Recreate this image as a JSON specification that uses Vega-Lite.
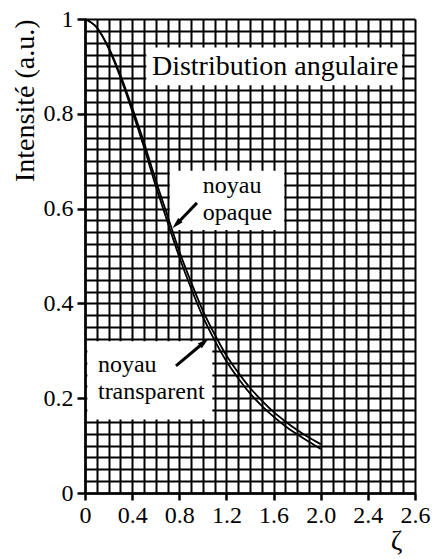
{
  "$schema": "https://vega.github.io/schema/vega-lite/v6.json",
  "width": 330,
  "height": 474,
  "autosize": "none",
  "padding": {"left": 85, "top": 19, "right": 17, "bottom": 66},
  "background": "white",
  "config": {
    "view": {"stroke": null},
    "font": "Liberation Serif",
    "axis": {
      "labelFont": "Liberation Serif",
      "titleFont": "Liberation Serif",
      "labelColor": "black",
      "titleColor": "black",
      "labelFontSize": 24,
      "titleFontWeight": "normal",
      "domainColor": "black",
      "domainWidth": 2.5,
      "tickColor": "black",
      "tickWidth": 2.5,
      "gridColor": "black",
      "gridWidth": 2,
      "gridOpacity": 1,
      "labelOverlap": false,
      "labelFlush": false
    }
  },
  "datasets": {
    "curves": [
      {"zeta": 0.0, "intensite": 1.0, "noyau": "opaque"},
      {"zeta": 0.1, "intensite": 0.982, "noyau": "opaque"},
      {"zeta": 0.2, "intensite": 0.94, "noyau": "opaque"},
      {"zeta": 0.3, "intensite": 0.882, "noyau": "opaque"},
      {"zeta": 0.4, "intensite": 0.813, "noyau": "opaque"},
      {"zeta": 0.5, "intensite": 0.74, "noyau": "opaque"},
      {"zeta": 0.6, "intensite": 0.66, "noyau": "opaque"},
      {"zeta": 0.7, "intensite": 0.585, "noyau": "opaque"},
      {"zeta": 0.8, "intensite": 0.51, "noyau": "opaque"},
      {"zeta": 0.9, "intensite": 0.445, "noyau": "opaque"},
      {"zeta": 1.0, "intensite": 0.385, "noyau": "opaque"},
      {"zeta": 1.1, "intensite": 0.335, "noyau": "opaque"},
      {"zeta": 1.2, "intensite": 0.29, "noyau": "opaque"},
      {"zeta": 1.3, "intensite": 0.254, "noyau": "opaque"},
      {"zeta": 1.4, "intensite": 0.222, "noyau": "opaque"},
      {"zeta": 1.5, "intensite": 0.195, "noyau": "opaque"},
      {"zeta": 1.6, "intensite": 0.171, "noyau": "opaque"},
      {"zeta": 1.7, "intensite": 0.151, "noyau": "opaque"},
      {"zeta": 1.8, "intensite": 0.133, "noyau": "opaque"},
      {"zeta": 1.9, "intensite": 0.117, "noyau": "opaque"},
      {"zeta": 2.0, "intensite": 0.103, "noyau": "opaque"},
      {"zeta": 0.0, "intensite": 1.0, "noyau": "transparent"},
      {"zeta": 0.1, "intensite": 0.982, "noyau": "transparent"},
      {"zeta": 0.2, "intensite": 0.938, "noyau": "transparent"},
      {"zeta": 0.3, "intensite": 0.877, "noyau": "transparent"},
      {"zeta": 0.4, "intensite": 0.806, "noyau": "transparent"},
      {"zeta": 0.5, "intensite": 0.73, "noyau": "transparent"},
      {"zeta": 0.6, "intensite": 0.648, "noyau": "transparent"},
      {"zeta": 0.7, "intensite": 0.572, "noyau": "transparent"},
      {"zeta": 0.8, "intensite": 0.498, "noyau": "transparent"},
      {"zeta": 0.9, "intensite": 0.432, "noyau": "transparent"},
      {"zeta": 1.0, "intensite": 0.372, "noyau": "transparent"},
      {"zeta": 1.1, "intensite": 0.322, "noyau": "transparent"},
      {"zeta": 1.2, "intensite": 0.278, "noyau": "transparent"},
      {"zeta": 1.3, "intensite": 0.242, "noyau": "transparent"},
      {"zeta": 1.4, "intensite": 0.21, "noyau": "transparent"},
      {"zeta": 1.5, "intensite": 0.184, "noyau": "transparent"},
      {"zeta": 1.6, "intensite": 0.161, "noyau": "transparent"},
      {"zeta": 1.7, "intensite": 0.141, "noyau": "transparent"},
      {"zeta": 1.8, "intensite": 0.124, "noyau": "transparent"},
      {"zeta": 1.9, "intensite": 0.108, "noyau": "transparent"},
      {"zeta": 2.0, "intensite": 0.093, "noyau": "transparent"}
    ]
  },
  "layer": [
    {
      "data": {"values": [{}]},
      "mark": {"type": "rect", "fill": "white"},
      "encoding": {
        "x": {"datum": 0.52, "type": "quantitative"},
        "x2": {"datum": 2.69},
        "y": {"datum": 0.94, "type": "quantitative"},
        "y2": {"datum": 0.86}
      }
    },
    {
      "data": {"values": [{}]},
      "mark": {"type": "rect", "fill": "white"},
      "encoding": {
        "x": {"datum": 0.72, "type": "quantitative"},
        "x2": {"datum": 1.69},
        "y": {"datum": 0.68, "type": "quantitative"},
        "y2": {"datum": 0.555}
      }
    },
    {
      "data": {"values": [{}]},
      "mark": {"type": "rect", "fill": "white"},
      "encoding": {
        "x": {"datum": 0.02, "type": "quantitative"},
        "x2": {"datum": 1.08},
        "y": {"datum": 0.32, "type": "quantitative"},
        "y2": {"datum": 0.155}
      }
    },
    {
      "data": {"name": "curves"},
      "mark": {"type": "line", "color": "black", "strokeWidth": 1.8, "interpolate": "monotone"},
      "encoding": {
        "detail": {"field": "noyau"},
        "x": {
          "field": "zeta",
          "type": "quantitative",
          "scale": {"domain": [0, 2.8], "nice": false, "zero": false},
          "axis": {
            "title": "ζ",
            "titleFontSize": 28,
            "titleX": 311,
            "titleAlign": "center",
            "titlePadding": 0,
            "tickCount": 100,
            "values": [0, 0.1, 0.2, 0.3, 0.4, 0.5, 0.6, 0.7, 0.8, 0.9, 1.0, 1.1, 1.2, 1.3, 1.4, 1.5, 1.6, 1.7, 1.8, 1.9, 2.0, 2.1, 2.2, 2.3, 2.4, 2.5, 2.6, 2.7, 2.8],
            "grid": true,
            "tickSize": 7,
            "labelPadding": 3,
            "tickOpacity": {"condition": {"test": "abs(datum.value/0.4 - round(datum.value/0.4)) > 0.01", "value": 0}, "value": 1},
            "labelExpr": "abs(datum.value/0.4 - round(datum.value/0.4)) > 0.01 ? '' : (datum.value == 0 ? '0' : (datum.value > 2.7 ? '2.6' : format(datum.value, '.1f')))"
          }
        },
        "y": {
          "field": "intensite",
          "type": "quantitative",
          "scale": {"domain": [0, 1], "nice": false},
          "axis": {
            "title": "Intensité (a.u.)",
            "titleFontSize": 28,
            "titleAnchor": "end",
            "titlePadding": 4,
            "tickCount": 100,
            "values": [0, 0.025, 0.05, 0.075, 0.1, 0.125, 0.15, 0.175, 0.2, 0.225, 0.25, 0.275, 0.3, 0.325, 0.35, 0.375, 0.4, 0.425, 0.45, 0.475, 0.5, 0.525, 0.55, 0.575, 0.6, 0.625, 0.65, 0.675, 0.7, 0.725, 0.75, 0.775, 0.8, 0.825, 0.85, 0.875, 0.9, 0.925, 0.95, 0.975, 1.0],
            "grid": true,
            "tickSize": 8,
            "labelPadding": 4,
            "tickOpacity": {"condition": {"test": "abs(datum.value/0.2 - round(datum.value/0.2)) > 0.01", "value": 0}, "value": 1},
            "labelExpr": "abs(datum.value/0.2 - round(datum.value/0.2)) > 0.01 ? '' : (datum.value == 0 ? '0' : (datum.value == 1 ? '1' : format(datum.value, '.1f')))"
          }
        }
      }
    },
    {
      "data": {"values": [{}]},
      "mark": {"type": "text", "font": "Liberation Serif", "fontSize": 28, "align": "left", "baseline": "alphabetic", "color": "black", "text": "Distribution angulaire"},
      "encoding": {
        "x": {"datum": 0.568, "type": "quantitative"},
        "y": {"datum": 0.882, "type": "quantitative"}
      }
    },
    {
      "data": {"values": [{}]},
      "mark": {"type": "text", "font": "Liberation Serif", "fontSize": 24, "align": "left", "baseline": "alphabetic", "lineHeight": 27, "color": "black", "text": ["noyau", "opaque"]},
      "encoding": {
        "x": {"datum": 1.0, "type": "quantitative"},
        "y": {"datum": 0.633, "type": "quantitative"}
      }
    },
    {
      "data": {"values": [{}]},
      "mark": {"type": "text", "font": "Liberation Serif", "fontSize": 24, "align": "left", "baseline": "alphabetic", "lineHeight": 27, "color": "black", "text": ["noyau", "transparent"]},
      "encoding": {
        "x": {"datum": 0.11, "type": "quantitative"},
        "y": {"datum": 0.255, "type": "quantitative"}
      }
    },
    {
      "data": {"values": [{}]},
      "mark": {"type": "rule", "color": "black", "strokeWidth": 3},
      "encoding": {
        "x": {"datum": 0.95, "type": "quantitative"},
        "y": {"datum": 0.612, "type": "quantitative"},
        "x2": {"datum": 0.776},
        "y2": {"datum": 0.567}
      }
    },
    {
      "data": {"values": [{}]},
      "mark": {"type": "point", "shape": "M0,-1L0.55,1L-0.55,1Z", "filled": true, "color": "black", "opacity": 1, "size": 130, "angle": 224},
      "encoding": {
        "x": {"datum": 0.776, "type": "quantitative"},
        "y": {"datum": 0.567, "type": "quantitative"}
      }
    },
    {
      "data": {"values": [{}]},
      "mark": {"type": "rule", "color": "black", "strokeWidth": 3},
      "encoding": {
        "x": {"datum": 0.772, "type": "quantitative"},
        "y": {"datum": 0.268, "type": "quantitative"},
        "x2": {"datum": 1.011},
        "y2": {"datum": 0.318}
      }
    },
    {
      "data": {"values": [{}]},
      "mark": {"type": "point", "shape": "M0,-1L0.55,1L-0.55,1Z", "filled": true, "color": "black", "opacity": 1, "size": 130, "angle": 50},
      "encoding": {
        "x": {"datum": 1.011, "type": "quantitative"},
        "y": {"datum": 0.318, "type": "quantitative"}
      }
    }
  ]
}
